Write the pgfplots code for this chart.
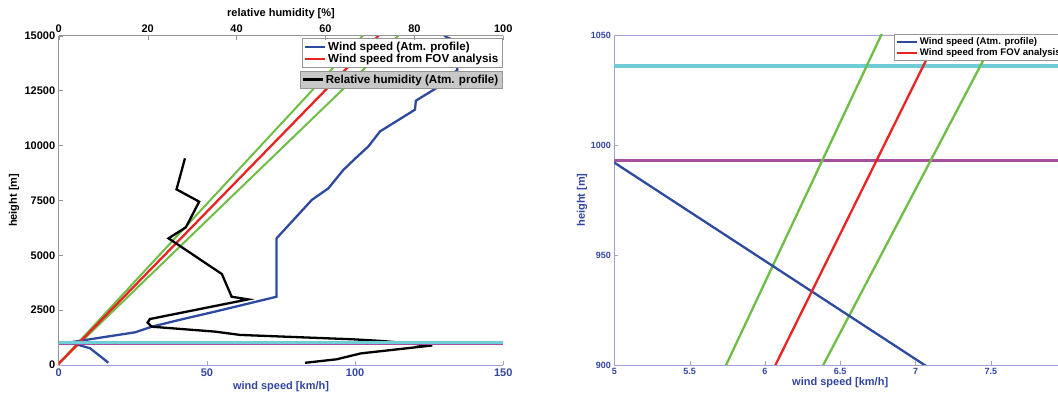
\documentclass[border=0pt]{standalone}
\usepackage{fontspec}
\setmainfont{Liberation Sans}
\setsansfont{Liberation Sans}
\usepackage{pgfplots}
\pgfplotsset{compat=1.18}
\definecolor{wsblue}{RGB}{46,74,160}
\definecolor{wsred}{RGB}{235,35,35}
\definecolor{wsgreen}{RGB}{110,190,70}
\definecolor{wscyan}{RGB}{110,205,215}
\definecolor{wspurple}{RGB}{165,80,160}
\definecolor{labblue}{RGB}{50,70,160}
\definecolor{lineblue}{RGB}{160,160,215}
\definecolor{linegray}{RGB}{150,150,150}
\definecolor{leggray}{RGB}{200,200,200}

\pgfplotstableread{
x y
16.7 105
15.6 230
10.6 760
7.06 900
5.0 992
4.2 1040
25.8 1490
31.4 1745
41.5 2080
52.7 2430
73.5 3110
73.5 5770
85.4 7520
91.0 8050
96.0 8880
100.0 9400
104.5 9960
108.4 10640
120.2 11630
120.5 12040
127.5 12620
134.5 13440
133.0 14800
130.0 15000
}\windprofile

\pgfplotstableread{
x y
55.4 100
62.5 260
68.0 530
84.0 890
73.0 1090
66.3 1170
40.8 1370
35.2 1520
20.9 1745
20.0 1930
20.5 2095
42.6 2990
38.9 3110
36.7 4145
24.7 5770
28.6 6270
31.6 7440
26.5 8000
28.4 9415
}\humidity

\pgfplotsset{
  mystyle/.style={
    scale only axis,
    tick align=inside,
    major tick length=4pt,
    scaled ticks=false,
    /pgf/number format/.cd, 1000 sep={}, assume math mode=true,
    /pgfplots/.cd,
    legend image code/.code={\draw[##1] (0pt,0pt) -- (20pt,0pt);},
    legend cell align=left,
  }
}

\begin{document}
\begin{tikzpicture}
\useasboundingbox (0pt,0pt) rectangle (1058pt,392pt);
\clip (0pt,0pt) rectangle (1058pt,392pt);

% ---------------- left panel, wind speed axis
\begin{axis}[mystyle,
  at={(58.7pt,27pt)}, anchor=south west,
  width=444.6pt, height=329.3pt,
  xmin=0, xmax=150, ymin=0, ymax=15000,
  axis x line*=bottom, axis y line*=left,
  axis line style={-},
  x axis line style={color=lineblue, line width=0.8pt},
  y axis line style={color=linegray, line width=0.8pt},
  x tick style={color=lineblue},
  y tick style={color=linegray},
  xtick={0,50,100,150},
  ytick={0,2500,5000,7500,10000,12500,15000},
  xticklabel style={font=\bfseries\fontsize{11}{12}\selectfont, text=labblue},
  yticklabel style={font=\bfseries\fontsize{11}{12}\selectfont, text=black},
  xlabel={wind speed [km/h]},
  ylabel={height [m]},
  xlabel style={font=\bfseries\fontsize{11}{12}\selectfont, text=labblue, at={(axis description cs:0.5,-0.066)}, anchor=center},
  ylabel style={font=\bfseries\fontsize{11}{12}\selectfont, text=black, at={(axis description cs:-0.1005,0.5)}, anchor=center},
  legend style={at={(axis description cs:0.997,0.993)}, anchor=north east,
    draw=linegray, fill=white, font=\bfseries\fontsize{11.6}{13}\selectfont,
    inner sep=1.5pt, row sep=-1.5pt},
]
\addplot[wsgreen, line width=2pt, forget plot] coordinates {(-0.44,0) (102.6,15000)};
\addplot[wsgreen, line width=2pt, forget plot] coordinates {(-0.52,0) (114.6,15000)};
\addplot[wsblue, line width=2.3pt] table[x=x,y=y] {\windprofile};
\addlegendentry{Wind speed (Atm. profile)}
\addplot[wsred, line width=2.3pt] coordinates {(-0.43,0) (107.9,15000)};
\addlegendentry{Wind speed from FOV analysis}
\end{axis}

% ---------------- left panel, humidity axis
\begin{axis}[mystyle,
  at={(58.7pt,27pt)}, anchor=south west,
  width=444.6pt, height=329.3pt,
  xmin=0, xmax=100, ymin=0, ymax=15000,
  axis x line*=top, axis y line=none,
  axis line style={-},
  x axis line style={color=linegray, line width=0.8pt},
  x tick style={color=linegray},
  xtick={0,20,40,60,80,100},
  xticklabel style={font=\bfseries\fontsize{11}{12}\selectfont, text=black},
  xlabel={relative humidity [\%]},
  xlabel style={font=\bfseries\fontsize{11}{12}\selectfont, text=black, at={(axis description cs:0.5,1.068)}, anchor=center},
  legend style={at={(axis description cs:0.997,0.893)}, anchor=north east,
    draw=linegray, fill=leggray, font=\bfseries\fontsize{11.6}{13}\selectfont,
    inner sep=1.5pt},
]
\addplot[black, line width=2.3pt] table[x=x,y=y] {\humidity};
\addlegendentry{Relative humidity (Atm. profile)}
\addplot[wspurple, line width=3.6pt, forget plot] coordinates {(0,993) (100,993)};
\addplot[wscyan, line width=3.5pt, forget plot] coordinates {(0,1036) (100,1036)};
\end{axis}

% ---------------- right panel, zoom
\begin{axis}[mystyle,
  at={(614.3pt,27pt)}, anchor=south west,
  width=451.8pt, height=330pt,
  xmin=5, xmax=8, ymin=900, ymax=1050,
  axis line style={color=lineblue, line width=0.8pt},
  tick style={color=lineblue},
  xtick={5,5.5,6,6.5,7,7.5},
  ytick={900,950,1000,1050},
  xtick pos=bottom, ytick pos=left,
  ticklabel style={font=\bfseries\fontsize{9}{10}\selectfont, text=labblue},
  xlabel={wind speed [km/h]},
  ylabel={height [m]},
  xlabel style={font=\bfseries\fontsize{11}{12}\selectfont, text=labblue, at={(axis description cs:0.5,-0.0545)}, anchor=center},
  ylabel style={font=\bfseries\fontsize{11}{12}\selectfont, text=labblue, at={(axis description cs:-0.0715,0.5)}, anchor=center},
  legend style={at={(axis description cs:0.619,1.003)}, anchor=north west,
    draw=linegray, fill=white, font=\bfseries\fontsize{9.6}{11}\selectfont,
    inner sep=1.5pt, row sep=-1.5pt},
]
\addplot[wscyan, line width=4pt, forget plot] coordinates {(5,1036) (8,1036)};
\addplot[wspurple!45, line width=3.6pt, forget plot] coordinates {(5,993) (8,993)};
\addplot[wspurple, line width=2.4pt, forget plot] coordinates {(5,993) (8,993)};
\addplot[wsgreen, line width=2.3pt, forget plot] coordinates {(5.399,850) (7.116,1100)};
\addplot[wsgreen, line width=2.3pt, forget plot] coordinates {(6.004,850) (7.922,1100)};
\addplot[wsblue, line width=2.3pt] coordinates {(10.6,760) (7.06,900) (5.0,992) (4.2,1040) (9.0,1140)};
\addlegendentry{Wind speed (Atm. profile)}
\addplot[wsred, line width=2.3pt] coordinates {(5.709,850) (7.514,1100)};
\addlegendentry{Wind speed from FOV analysis}
\end{axis}
\end{tikzpicture}
\end{document}
